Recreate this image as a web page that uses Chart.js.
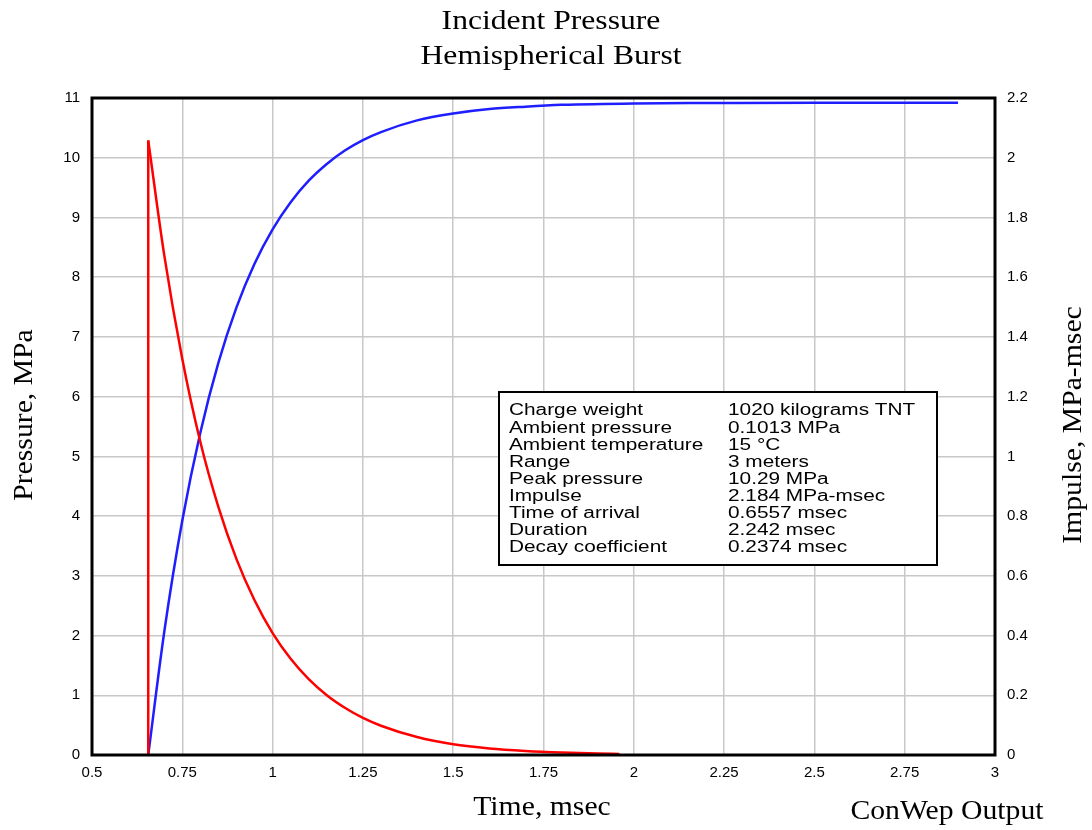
<!DOCTYPE html>
<html>
<head>
<meta charset="utf-8">
<title>Incident Pressure - Hemispherical Burst</title>
<script src="https://cdn.jsdelivr.net/npm/chart.js@4.4.0/dist/chart.umd.min.js"></script>
<style>
  html, body { margin: 0; padding: 0; background: #fff; }
  #wrap { width: 1092px; height: 830px; }
</style>
</head>
<body>
<div id="wrap"><canvas id="blastChart" width="1092" height="830"></canvas></div>
<script>
// ---- data ----
const xTicks = [0.5, 0.75, 1, 1.25, 1.5, 1.75, 2, 2.25, 2.5, 2.75, 3];
const xTickLabels = ['0.5', '0.75', '1', '1.25', '1.5', '1.75', '2', '2.25', '2.5', '2.75', '3'];
const pressureTicks = [0, 1, 2, 3, 4, 5, 6, 7, 8, 9, 10, 11];
const impulseTicks = [0, 0.2, 0.4, 0.6, 0.8, 1, 1.2, 1.4, 1.6, 1.8, 2, 2.2];
const impulseTickLabels = ['0', '0.2', '0.4', '0.6', '0.8', '1', '1.2', '1.4', '1.6', '1.8', '2', '2.2'];

// shock front (vertical jump at arrival)
const frontTime = [0.6557, 0.6557];
const frontPressure = [0, 10.29];

// pressure decay, MPa
const pressureTime = [0.6557, 0.7, 0.75, 0.8, 0.85, 0.9, 0.95, 1.0, 1.05, 1.1, 1.15, 1.2, 1.25, 1.3, 1.4, 1.5, 1.6, 1.7, 1.8, 1.9, 1.96];
const pressureValues = [10.29, 8.37, 6.63, 5.24, 4.15, 3.28, 2.59, 2.04, 1.61, 1.27, 1.00, 0.79, 0.62, 0.49, 0.30, 0.18, 0.11, 0.068, 0.041, 0.024, 0.018];

// impulse, MPa-msec
const impulseTime = [0.6557, 0.7, 0.75, 0.8, 0.85, 0.9, 0.95, 1.0, 1.05, 1.1, 1.15, 1.2, 1.25, 1.3, 1.4, 1.5, 1.6, 1.7, 1.8, 2.0, 2.2, 2.5, 2.8977];
const impulseValues = [0, 0.412, 0.785, 1.080, 1.314, 1.499, 1.645, 1.760, 1.851, 1.923, 1.979, 2.024, 2.059, 2.086, 2.125, 2.148, 2.163, 2.171, 2.177, 2.182, 2.183, 2.184, 2.184];

// info box text
const infoLabels = ['Charge weight', 'Ambient pressure', 'Ambient temperature', 'Range', 'Peak pressure',
  'Impulse', 'Time of arrival', 'Duration', 'Decay coefficient'];
const infoValues = ['1020 kilograms TNT', '0.1013 MPa', '15 \u00B0C', '3 meters', '10.29 MPa',
  '2.184 MPa-msec', '0.6557 msec', '2.242 msec', '0.2374 msec'];

const toPoints = (xs, ys) => xs.map((x, i) => ({ x: x, y: ys[i] }));

const SERIF = '"Liberation Serif", "DejaVu Serif", serif';
const SANS = '"Liberation Sans", Arial, sans-serif';

// text drawn a bit wider than the installed fonts, like the original output
function wideText(ctx, text, x, y, sx, rot) {
  ctx.save();
  ctx.translate(x, y);
  if (rot) ctx.rotate(rot);
  ctx.scale(sx, 1);
  ctx.fillText(text, 0, 0);
  ctx.restore();
}

// ---- titles, axis titles, frame and info box ----
const decorPlugin = {
  id: 'decor',
  afterDraw(chart) {
    const ctx = chart.ctx;
    const a = chart.chartArea;
    ctx.save();

    // frame
    ctx.strokeStyle = '#000';
    ctx.lineWidth = 3;
    ctx.strokeRect(a.left, a.top, a.right - a.left, a.bottom - a.top);

    // titles
    ctx.fillStyle = '#000';
    ctx.font = '28px ' + SERIF;
    ctx.textAlign = 'center';
    ctx.textBaseline = 'middle';
    wideText(ctx, 'Incident Pressure', 551, 22, 1.13);
    wideText(ctx, 'Hemispherical Burst', 551, 57, 1.13);

    ctx.font = '27px ' + SERIF;
    wideText(ctx, 'Time, msec', 542, 808, 1.1);
    wideText(ctx, 'ConWep Output', 947, 812, 1.1);
    wideText(ctx, 'Pressure, MPa', 25, 415, 1.1, -Math.PI / 2);
    wideText(ctx, 'Impulse, MPa-msec', 1074, 425, 1.1, -Math.PI / 2);

    // info box
    const bx = 499, by = 392, bw = 438, bh = 173;
    ctx.fillStyle = '#fff';
    ctx.fillRect(bx, by, bw, bh);
    ctx.lineWidth = 2;
    ctx.strokeRect(bx, by, bw, bh);
    ctx.fillStyle = '#000';
    ctx.font = '16px ' + SANS;
    ctx.textAlign = 'left';
    infoLabels.forEach((lab, i) => {
      const y = 411 + i * 17.1;
      wideText(ctx, lab, 509, y, 1.3);
      wideText(ctx, infoValues[i], 728, y, 1.3);
    });

    ctx.restore();
  }
};

document.addEventListener('DOMContentLoaded', () => {
  const ctx = document.getElementById('blastChart').getContext('2d');
  new Chart(ctx, {
    type: 'scatter',
    data: {
      datasets: [
        {
          label: 'Shock front',
          data: toPoints(frontTime, frontPressure),
          yAxisID: 'y',
          showLine: true,
          borderColor: '#ff0000',
          borderWidth: 2.5,
          pointRadius: 0
        },
        {
          label: 'Pressure',
          data: toPoints(pressureTime, pressureValues),
          yAxisID: 'y',
          showLine: true,
          borderColor: '#ff0000',
          borderWidth: 2.5,
          pointRadius: 0,
          cubicInterpolationMode: 'monotone'
        },
        {
          label: 'Impulse',
          data: toPoints(impulseTime, impulseValues),
          yAxisID: 'y1',
          showLine: true,
          borderColor: '#1e1eff',
          borderWidth: 2.5,
          pointRadius: 0,
          cubicInterpolationMode: 'monotone'
        }
      ]
    },
    options: {
      responsive: false,
      animation: false,
      layout: { padding: { top: 98, left: 0, right: 0, bottom: 0 } },
      plugins: {
        legend: { display: false },
        tooltip: { enabled: false },
        title: { display: false }
      },
      scales: {
        x: {
          type: 'linear',
          min: 0.5,
          max: 3,
          afterBuildTicks: s => { s.ticks = xTicks.map(v => ({ value: v })); },
          afterFit: s => { s.height = 75; },
          ticks: {
            color: '#000',
            font: { family: SANS, size: 15 },
            padding: 9,
            maxRotation: 0,
            autoSkip: false,
            callback: (v, i) => xTickLabels[i]
          },
          grid: { color: '#c8c8c8', lineWidth: 1.5, drawTicks: false },
          border: { display: false }
        },
        y: {
          type: 'linear',
          position: 'left',
          min: 0,
          max: 11,
          afterBuildTicks: s => { s.ticks = pressureTicks.map(v => ({ value: v })); },
          afterFit: s => { s.width = 92; },
          ticks: {
            color: '#000',
            font: { family: SANS, size: 15 },
            padding: 12,
            autoSkip: false,
            callback: (v, i) => String(pressureTicks[i])
          },
          grid: { color: '#c8c8c8', lineWidth: 1.5, drawTicks: false },
          border: { display: false }
        },
        y1: {
          type: 'linear',
          position: 'right',
          min: 0,
          max: 2.2,
          afterBuildTicks: s => { s.ticks = impulseTicks.map(v => ({ value: v })); },
          afterFit: s => { s.width = 97; },
          ticks: {
            color: '#000',
            font: { family: SANS, size: 15 },
            padding: 12,
            autoSkip: false,
            callback: (v, i) => impulseTickLabels[i]
          },
          grid: { display: false, drawTicks: false },
          border: { display: false }
        }
      }
    },
    plugins: [decorPlugin]
  });
});
</script>
</body>
</html>
